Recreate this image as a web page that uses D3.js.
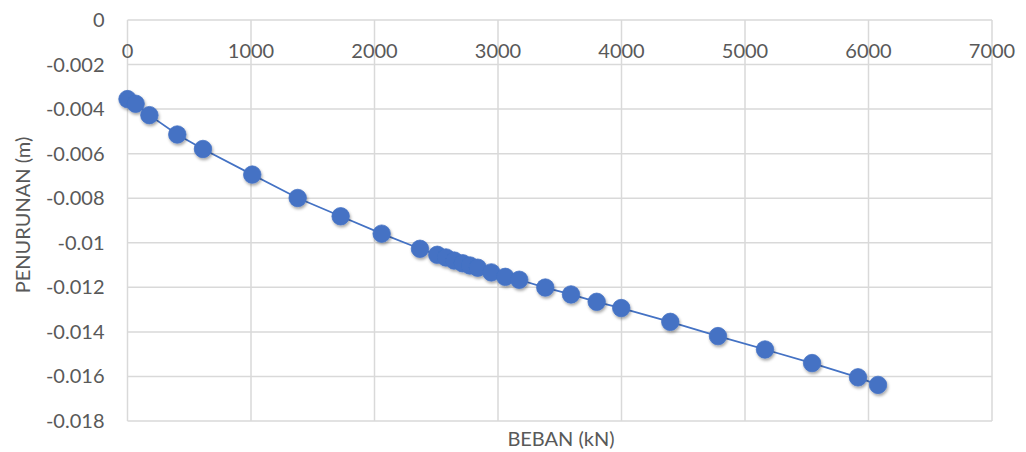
<!DOCTYPE html>
<html>
<head>
<meta charset="utf-8">
<script src="https://cdn.jsdelivr.net/npm/d3@7"></script>
<style>
  body { margin: 0; background: #fff; }
  svg { display: block; }
</style>
</head>
<body>
<div id="chart"></div>
<script>
const width = 1026;
const height = 452;

// load (kN) and settlement (m)
const beban = [0, 66, 177, 403, 611, 1010, 1378, 1726, 2058, 2368,
  2508, 2579, 2646, 2714, 2773, 2836, 2946, 3059, 3172, 3383,
  3591, 3799, 3998, 4395, 4781, 5162, 5543, 5915, 6077];
const penurunan = [-0.00355, -0.00376, -0.00427, -0.00514, -0.00579, -0.00694, -0.00799, -0.00881, -0.00959, -0.01027,
  -0.01054, -0.01066, -0.01080, -0.01092, -0.01102, -0.01112, -0.01133, -0.01153, -0.01166, -0.01201,
  -0.01232, -0.01265, -0.01293, -0.01355, -0.01419, -0.01479, -0.01540, -0.01604, -0.01638];

const xTicks = [0, 1000, 2000, 3000, 4000, 5000, 6000, 7000];
const yTicks = [0, -0.002, -0.004, -0.006, -0.008, -0.01, -0.012, -0.014, -0.016, -0.018];

const margin = { top: 20, right: 34, bottom: 31, left: 127.5 };
const fontFamily = "Lato, 'Open Sans', sans-serif";
const textColor = "#595959";

const x = d3.scaleLinear().domain([0, 7000]).range([margin.left, width - margin.right]);
const y = d3.scaleLinear().domain([-0.018, 0]).range([height - margin.bottom, margin.top]);

const svg = d3.select("#chart").append("svg")
  .attr("width", width)
  .attr("height", height)
  .attr("font-family", fontFamily);

const defs = svg.append("defs");
const shadow = defs.append("filter").attr("id", "shadow")
  .attr("x", "-50%").attr("y", "-50%").attr("width", "200%").attr("height", "200%");
shadow.append("feDropShadow")
  .attr("dx", 1).attr("dy", 2).attr("stdDeviation", 1.5)
  .attr("flood-color", "#000").attr("flood-opacity", 0.35);

// grid
svg.append("g").selectAll("line").data(xTicks).join("line")
  .attr("x1", d => x(d)).attr("x2", d => x(d))
  .attr("y1", y(0)).attr("y2", y(-0.018))
  .attr("stroke", "#d9d9d9").attr("stroke-width", 1.5);

svg.append("g").selectAll("line").data(yTicks).join("line")
  .attr("x1", x(0)).attr("x2", x(7000))
  .attr("y1", d => y(d)).attr("y2", d => y(d))
  .attr("stroke", "#d9d9d9").attr("stroke-width", 1.5);

// tick labels (x labels sit under the zero line at the top)
svg.append("g").selectAll("text").data(xTicks).join("text")
  .attr("x", d => x(d))
  .attr("y", y(0) + 38)
  .attr("text-anchor", "middle")
  .attr("font-size", 20)
  .attr("fill", textColor)
  .text(d => d);

svg.append("g").selectAll("text").data(yTicks).join("text")
  .attr("x", x(0) - 23)
  .attr("y", d => y(d) + 7)
  .attr("text-anchor", "end")
  .attr("font-size", 20)
  .attr("fill", textColor)
  .text(d => d === 0 ? "0" : String(+d.toFixed(3)));

// axis titles
svg.append("text")
  .attr("transform", `translate(${23},${215}) rotate(-90)`)
  .attr("text-anchor", "middle")
  .attr("dy", "0.35em")
  .attr("font-size", 20)
  .attr("fill", textColor)
  .text("PENURUNAN (m)");

svg.append("text")
  .attr("x", 561)
  .attr("y", 446)
  .attr("text-anchor", "middle")
  .attr("font-size", 20)
  .attr("fill", textColor)
  .text("BEBAN (kN)");

// series
const pts = beban.map((b, i) => [b, penurunan[i]]);

svg.append("path")
  .datum(pts)
  .attr("fill", "none")
  .attr("stroke", "#4472c4")
  .attr("stroke-width", 1.75)
  .attr("d", d3.line().x(d => x(d[0])).y(d => y(d[1])));

svg.append("g").attr("filter", "url(#shadow)")
  .selectAll("circle").data(pts).join("circle")
  .attr("cx", d => x(d[0]))
  .attr("cy", d => y(d[1]))
  .attr("r", 8.75)
  .attr("fill", "#4472c4")
  .attr("stroke", "#4472c4")
  .attr("stroke-width", 0.75);
</script>
</body>
</html>
